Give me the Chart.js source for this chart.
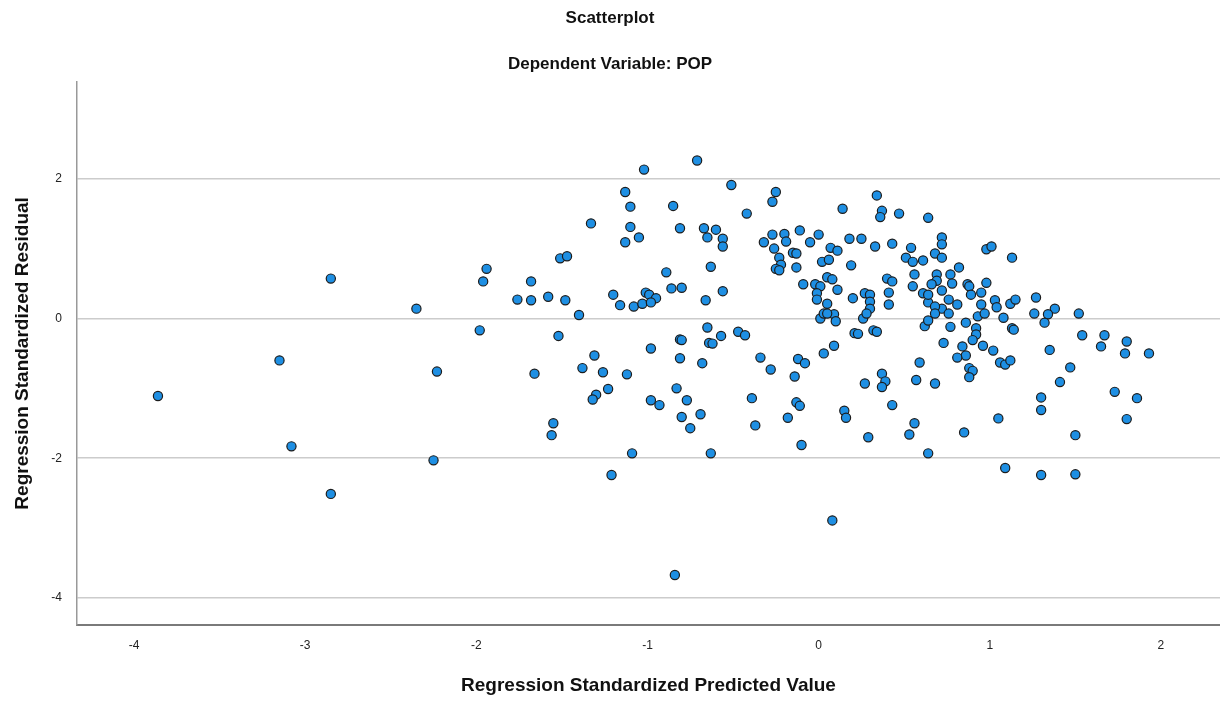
<!DOCTYPE html>
<html>
<head>
<meta charset="utf-8">
<script src="https://cdn.jsdelivr.net/npm/chart.js@4.4.1/dist/chart.umd.min.js"></script>
<style>
html,body{margin:0;padding:0;background:#fff;}
#wrap{width:1220px;height:702px;position:relative;}
</style>
</head>
<body>
<div id="wrap"><canvas id="c" width="1220" height="702"></canvas></div>
<script>
const chartTitle = "Scatterplot";
const chartSubtitle = "Dependent Variable: POP";
const xAxisTitle = "Regression Standardized Predicted Value";
const yAxisTitle = "Regression Standardized Residual";
const xTicks = [-4, -3, -2, -1, 0, 1, 2];
const yTicks = [-4, -2, 0, 2];

const predicted = [
 -3.86,-3.15,-3.08,-2.85,-2.85,-2.35,-2.23,-2.25,-1.94,-1.96,-1.98,
 -1.02,-0.71,-1.13,-1.10,-0.85,-1.33,-1.10,-1.05,-1.13,-0.81,-0.67,-0.65,-1.51,-1.47,-1.68,-0.89,-0.86,-0.80,-0.63,
 -1.76,-1.68,-1.58,-1.48,-1.20,-1.16,-1.08,-1.01,-0.99,-0.95,-1.03,-0.98,-0.66,-1.40,
 -1.52,-1.31,-1.38,-1.26,-1.66,-1.12,-1.23,-1.30,-1.32,-0.98,-0.81,-0.80,-0.65,-0.64,-0.81,-0.68,-0.83,-0.77,-0.98,
 -0.93,-0.69,-0.80,-0.75,-1.55,-1.56,-1.09,-0.63,-1.21,
 -0.51,-0.25,-0.27,-0.42,0.34,0.14,0.37,0.36,0.47,0.64,-0.60,-0.56,-0.56,-0.56,-0.32,-0.27,-0.20,-0.19,-0.26,-0.23,
 -0.22,-0.25,-0.23,-0.15,-0.13,-0.13,-0.11,-0.05,0.00,-0.09,0.02,0.06,0.07,0.11,0.18,0.25,0.33,0.43,0.19,0.05,0.08,
 -0.02,0.01,0.11,-0.01,-0.01,0.05,0.20,0.27,0.30,0.30,0.30,0.41,0.40,0.43,0.41,0.54,0.51,0.55,0.61,0.56,0.55,0.61,0.64,
 0.72,0.72,0.68,0.72,0.98,1.01,1.13,0.82,0.69,0.77,0.69,0.66,0.78,0.72,0.87,0.88,0.98,0.89,0.95,0.64,0.76,0.81,0.72,
 0.68,0.95,1.03,1.04,1.12,1.15,1.27,1.38,1.52,1.26,1.34,
 -0.62,-0.57,-0.47,-0.43,-0.34,-0.28,-0.12,-0.08,-0.14,0.03,0.09,0.01,0.03,0.09,0.10,0.21,0.23,0.32,0.34,0.26,0.28,0.05,
 -0.39,-0.37,-0.13,-0.11,-0.18,-0.10,0.15,0.16,0.29,0.27,0.37,0.39,0.37,0.43,0.59,0.57,0.56,0.53,0.62,0.64,
 0.64,0.68,0.76,0.77,0.86,0.93,0.97,0.92,0.92,0.90,0.96,1.02,1.08,1.13,1.14,1.32,0.73,0.84,0.86,0.81,1.06,1.09,1.12,
 0.88,0.90,0.88,0.68,1.35,1.54,1.67,1.65,1.80,1.79,1.93,1.47,1.41,1.73,1.86,1.80,1.30,1.30,1.05,0.85,1.50,1.09,1.30,1.50,
 0.08,-0.84
];
const residual = [
 -1.11,-0.60,-1.83,0.57,-2.51,0.14,-0.76,-2.03,0.71,0.53,-0.17,
 2.13,2.26,1.81,1.60,1.61,1.36,1.31,1.16,1.09,1.29,1.29,1.16,0.86,0.89,0.53,0.66,0.43,0.44,0.74,
 0.27,0.26,0.31,0.26,0.34,0.19,0.17,0.37,0.34,0.29,0.21,0.23,0.26,0.05,
 -0.25,-0.53,-0.71,-0.77,-0.79,-0.80,-1.01,-1.09,-1.16,-0.43,-0.30,-0.31,-0.13,-0.35,-0.57,-0.64,-1.00,-1.17,-1.17,
 -1.24,-1.37,-1.41,-1.57,-1.50,-1.67,-1.93,-1.93,-2.24,
 1.91,1.81,1.67,1.50,1.76,1.57,1.54,1.45,1.50,1.44,1.27,1.14,1.03,0.39,1.09,1.20,1.21,1.10,1.00,0.87,
 0.77,0.71,0.69,0.94,0.93,0.73,1.26,1.09,1.20,0.49,0.81,0.84,1.01,0.97,1.14,1.14,1.03,1.07,0.76,0.59,0.56,
 0.49,0.46,0.41,0.36,0.27,0.21,0.29,0.36,0.34,0.24,0.14,0.37,0.57,0.53,0.20,1.01,0.87,0.81,0.83,0.63,0.46,0.36,0.23,
 1.16,1.06,0.93,0.87,0.99,1.03,0.87,0.73,0.63,0.63,0.54,0.49,0.50,0.40,0.49,0.46,0.51,0.34,0.37,0.34,0.27,0.20,0.14,
 0.17,0.20,0.26,0.16,0.21,0.27,0.30,0.14,0.07,0.07,0.06,
 -0.36,-0.25,-0.19,-0.24,-0.56,-0.73,-0.58,-0.64,-0.83,-0.50,-0.39,0.00,0.07,0.06,-0.04,-0.21,-0.22,-0.17,-0.19,0.00,0.07,0.07,
 -1.14,-1.53,-1.20,-1.25,-1.42,-1.81,-1.32,-1.42,-1.70,-0.93,-0.79,-0.90,-0.98,-1.24,-0.63,-0.88,-1.50,-1.66,-0.11,-1.93,
 -0.03,0.07,0.07,-0.12,-0.06,0.03,0.07,-0.14,-0.23,-0.31,-0.39,-0.46,0.01,-0.14,-0.16,-0.06,-0.35,-0.40,-0.53,-0.56,-0.63,-0.66,-0.60,
 -0.71,-0.75,-0.84,-0.93,-0.45,-0.24,-0.24,-0.40,-0.33,-0.50,-0.50,-0.70,-0.91,-1.05,-1.14,-1.44,-1.13,-1.31,-1.43,-1.63,-1.67,-2.14,-2.24,-2.23,
 -2.89,-3.67
];

const points = predicted.map((x, i) => ({x: x, y: residual[i]}));

const FONT = "'Liberation Sans', Arial, sans-serif";

new Chart(document.getElementById('c'), {
  type: 'scatter',
  data: {
    datasets: [{
      data: points,
      backgroundColor: '#1e8fe3',
      borderColor: '#1c1c1c',
      borderWidth: 1.2,
      pointRadius: 4.6,
      pointHoverRadius: 4.6,
      clip: false
    }]
  },
  options: {
    responsive: false,
    animation: false,
    events: [],
    layout: {padding: 0, autoPadding: false},
    plugins: {
      legend: {display: false},
      tooltip: {enabled: false},
      title: {
        display: true, text: chartTitle, color: '#111',
        font: {family: FONT, size: 17, weight: 'bold'},
        padding: {top: 8, bottom: 12}
      },
      subtitle: {
        display: true, text: chartSubtitle, color: '#111',
        font: {family: FONT, size: 17, weight: 'bold'},
        padding: {top: 14, bottom: 7}
      }
    },
    scales: {
      x: {
        type: 'linear', position: 'bottom',
        min: -4.333, max: 2.345,
        afterBuildTicks: s => { s.ticks = xTicks.map(v => ({value: v})); },
        afterFit: s => { s.height = 77; s.paddingLeft = 0; s.paddingRight = 0; },
        grid: {display: false, drawTicks: false},
        border: {display: true, color: '#7a7a7a', width: 2},
        ticks: {color: '#222', font: {family: FONT, size: 12}, padding: 13, maxRotation: 0,
                callback: v => String(v)},
        title: {display: true, text: xAxisTitle, color: '#111',
                font: {family: FONT, size: 19, weight: 'bold'}, padding: {top: 21, bottom: 5}}
      },
      y: {
        type: 'linear', position: 'left',
        min: -4.386, max: 3.386,
        afterBuildTicks: s => { s.ticks = yTicks.map(v => ({value: v})); },
        afterFit: s => { s.width = 77; s.paddingTop = 0; s.paddingBottom = 0; },
        grid: {display: true, drawTicks: false, color: '#cccccc', lineWidth: 1.5},
        border: {display: true, color: '#999999', width: 1.5},
        ticks: {color: '#222', font: {family: FONT, size: 12}, padding: 15,
                callback: v => String(v)},
        title: {display: true, text: yAxisTitle, color: '#111',
                font: {family: FONT, size: 19, weight: 'bold'}, padding: {top: 11, bottom: 10}}
      }
    }
  }
});
</script>
</body>
</html>
